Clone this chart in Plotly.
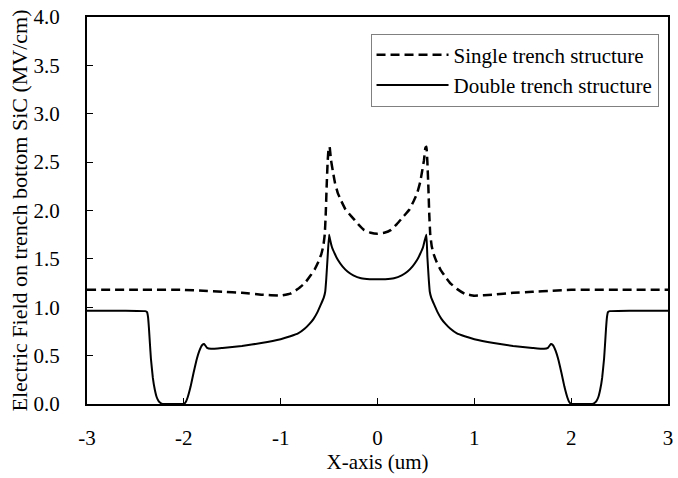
import plotly.graph_objects as go

# Electric field along the trench bottom (MV/cm) versus lateral position (um)
single_x = [-3.0, -2.5, -2.0, -1.8, -1.6, -1.4, -1.2, -1.0, -0.9, -0.82, -0.75, -0.69,
            -0.65, -0.61, -0.58, -0.56, -0.545, -0.535, -0.525, -0.515, -0.505, -0.495,
            -0.48, -0.46, -0.44, -0.41, -0.375, -0.33, -0.27, -0.2, -0.14, -0.07, 0.0,
            0.07, 0.14, 0.2, 0.27, 0.33, 0.375, 0.41, 0.44, 0.46, 0.48, 0.495, 0.505,
            0.515, 0.525, 0.535, 0.545, 0.56, 0.58, 0.61, 0.65, 0.69, 0.75, 0.82, 0.9,
            1.0, 1.2, 1.4, 1.6, 1.8, 2.0, 2.5, 3.0]
single_y = [1.18, 1.18, 1.18, 1.17, 1.16, 1.15, 1.13, 1.12, 1.14, 1.19, 1.25, 1.33,
            1.39, 1.47, 1.55, 1.63, 1.75, 1.95, 2.25, 2.5, 2.64, 2.66,
            2.52, 2.4, 2.29, 2.18, 2.1, 2.01, 1.94, 1.86, 1.80, 1.77, 1.76,
            1.77, 1.80, 1.86, 1.94, 2.01, 2.1, 2.18, 2.29, 2.4, 2.52, 2.65, 2.66,
            2.5, 2.25, 1.95, 1.75, 1.63, 1.55, 1.47, 1.39, 1.33, 1.25, 1.19, 1.14,
            1.12, 1.13, 1.15, 1.16, 1.17, 1.18, 1.18, 1.18]

double_x = [-3.0, -2.6, -2.4, -2.38, -2.37, -2.36, -2.35, -2.34, -2.32, -2.3, -2.28,
            -2.26, -2.24, -2.22, -2.1, -2.0, -1.98, -1.96, -1.93, -1.9, -1.87, -1.84,
            -1.81, -1.79, -1.76, -1.72, -1.6, -1.4, -1.2, -1.0, -0.9, -0.82, -0.75,
            -0.7, -0.66, -0.62, -0.58, -0.555, -0.54, -0.53, -0.515, -0.5, -0.49,
            -0.47, -0.44, -0.41, -0.36, -0.31, -0.25, -0.17, -0.08, 0.0,
            0.08, 0.17, 0.25, 0.31, 0.36, 0.41, 0.44, 0.47, 0.49, 0.505, 0.515,
            0.53, 0.54, 0.555, 0.58, 0.62, 0.66, 0.7, 0.75, 0.82, 0.9, 1.0, 1.2,
            1.4, 1.6, 1.72, 1.76, 1.79, 1.81, 1.84, 1.87, 1.9, 1.93, 1.96, 1.98,
            2.0, 2.1, 2.22, 2.24, 2.26, 2.28, 2.3, 2.32, 2.34, 2.35, 2.36, 2.37,
            2.38, 2.4, 2.6, 3.0]
double_y = [0.965, 0.965, 0.96, 0.95, 0.9, 0.78, 0.62, 0.47, 0.27, 0.15, 0.07,
            0.03, 0.01, 0.0, 0.0, 0.0, 0.02, 0.07, 0.18, 0.32, 0.45, 0.55,
            0.61, 0.62, 0.58, 0.57, 0.58, 0.6, 0.63, 0.67, 0.7, 0.73, 0.78,
            0.83, 0.88, 0.95, 1.04, 1.1, 1.16, 1.28, 1.52, 1.75, 1.7,
            1.62, 1.55, 1.49, 1.42, 1.37, 1.33, 1.30, 1.29, 1.29,
            1.29, 1.30, 1.33, 1.37, 1.42, 1.49, 1.55, 1.62, 1.7, 1.75, 1.52,
            1.28, 1.16, 1.1, 1.04, 0.95, 0.88, 0.83, 0.78, 0.73, 0.7, 0.67, 0.63,
            0.6, 0.58, 0.57, 0.58, 0.62, 0.61, 0.55, 0.45, 0.32, 0.18, 0.07, 0.02,
            0.0, 0.0, 0.0, 0.01, 0.03, 0.07, 0.15, 0.27, 0.47, 0.62, 0.78, 0.9,
            0.95, 0.96, 0.965, 0.965]

x_ticks = [-3, -2, -1, 0, 1, 2, 3]
x_tick_text = ["-3", "-2", "-1", "0", "1", "2", "3"]
y_ticks = [0.0, 0.5, 1.0, 1.5, 2.0, 2.5, 3.0, 3.5, 4.0]

serif = "Liberation Serif, Times New Roman, serif"

fig = go.Figure()
fig.add_trace(go.Scatter(
    x=single_x, y=single_y, mode="lines", name="Single trench structure",
    line=dict(color="black", width=2.5, dash="9px,5px", shape="spline", smoothing=0.3),
))
fig.add_trace(go.Scatter(
    x=double_x, y=double_y, mode="lines", name="Double trench structure",
    line=dict(color="black", width=2, shape="spline", smoothing=0.3),
))

axis_common = dict(
    showgrid=False, zeroline=False, showline=True, linecolor="black", linewidth=2,
    mirror=True, ticks="inside", ticklen=6, tickcolor="black", tickwidth=1,
    tickfont=dict(family=serif, size=21, color="black"),
    ticklabeloverflow="allow",
)

fig.update_layout(
    width=678, height=478,
    margin=dict(l=87, r=5, t=10, b=74),
    paper_bgcolor="white", plot_bgcolor="white",
    font=dict(family=serif, size=21, color="black"),
    xaxis=dict(
        range=[-3, 3], tickvals=x_ticks, ticktext=x_tick_text,
        ticklabelstandoff=14,
        title=dict(text="X-axis (um)", font=dict(family=serif, size=21), standoff=0),
        **axis_common,
    ),
    yaxis=dict(
        range=[0, 4], tickvals=y_ticks, tickformat=".1f",
        ticklabelstandoff=21,
        title=dict(text="Electric Field on trench bottom SiC (MV/cm)",
                   font=dict(family=serif, size=22), standoff=0),
        **axis_common,
    ),
    legend=dict(
        x=0.488, y=0.957, xanchor="left", yanchor="top",
        bgcolor="white", bordercolor="#808080", borderwidth=1,
        font=dict(family=serif, size=21, color="black"),
        itemwidth=72,
    ),
    showlegend=True,
)

fig.write_html("out.html")
